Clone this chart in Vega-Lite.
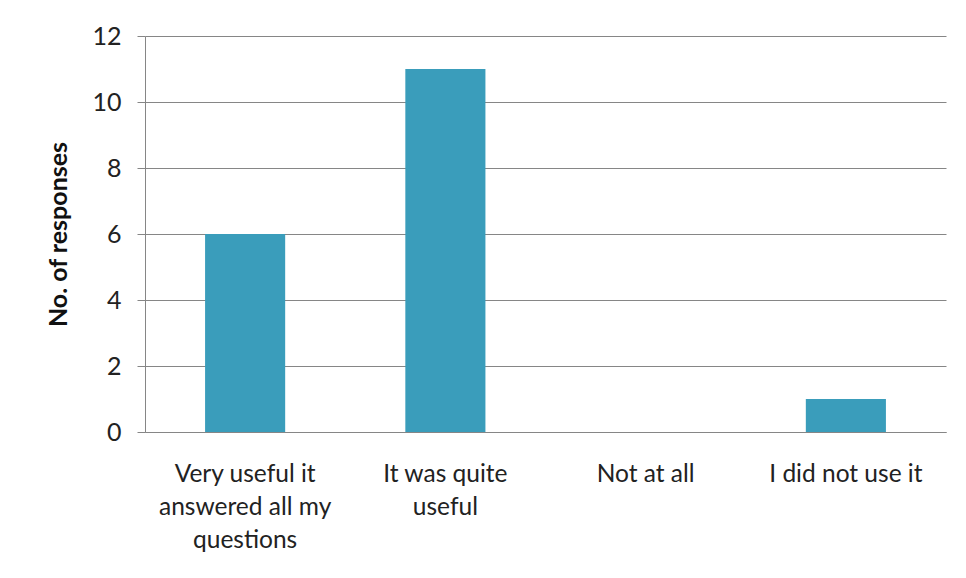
{
  "$schema": "https://vega.github.io/schema/vega-lite/v6.json",
  "width": 801,
  "height": 396,
  "autosize": {"type": "none"},
  "padding": {"left": 145, "top": 36, "right": 20, "bottom": 146},
  "background": "white",
  "config": {
    "view": {"stroke": null},
    "font": "Lato"
  },
  "data": {
    "values": [
      {"answer": "Very useful it answered all my questions", "responses": 6},
      {"answer": "It was quite useful", "responses": 11},
      {"answer": "Not at all", "responses": 0},
      {"answer": "I did not use it", "responses": 1}
    ]
  },
  "mark": {"type": "bar", "color": "#3A9DBB"},
  "encoding": {
    "x": {
      "field": "answer",
      "type": "nominal",
      "sort": null,
      "scale": {"paddingInner": 0.6, "paddingOuter": 0.3},
      "axis": {
        "title": null,
        "labelAngle": 0,
        "ticks": false,
        "domain": true,
        "domainColor": "#868686",
        "labelFont": "Lato",
        "labelFontSize": 24.5,
        "labelColor": "#222222",
        "labelPadding": 30,
        "labelLineHeight": 33,
        "labelLimit": 0,
        "labelExpr": "datum.value == 'Very useful it answered all my questions' ? ['Very useful it', 'answered all my', 'questions'] : datum.value == 'It was quite useful' ? ['It was quite', 'useful'] : datum.value"
      }
    },
    "y": {
      "field": "responses",
      "type": "quantitative",
      "scale": {"domain": [0, 12], "nice": false},
      "axis": {
        "title": "No. of responses",
        "titleFont": "Lato",
        "titleFontSize": 25,
        "titleFontWeight": "bold",
        "titleColor": "#111111",
        "titlePadding": 20,
        "values": [0, 2, 4, 6, 8, 10, 12],
        "grid": true,
        "gridColor": "#868686",
        "gridWidth": 1,
        "domainColor": "#868686",
        "tickColor": "#868686",
        "tickSize": 8,
        "labelFont": "Lato",
        "labelFontSize": 25,
        "labelColor": "#222222",
        "labelPadding": 16
      }
    }
  }
}
